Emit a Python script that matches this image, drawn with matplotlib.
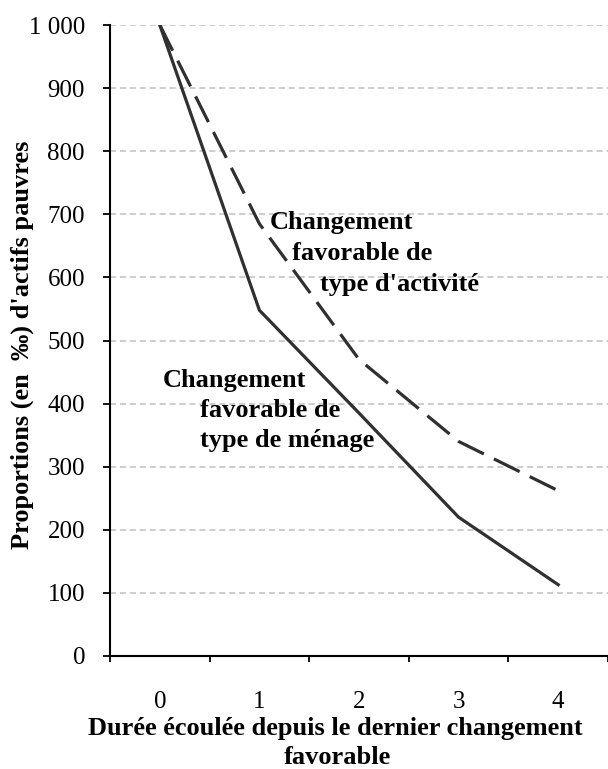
import matplotlib
matplotlib.use("Agg")
import matplotlib.pyplot as plt

categories = ["0", "1", "2", "3", "4"]
menage = [1000, 548, 385, 220, 113]
activite = [1000, 685, 470, 340, 262]
yticks = [0, 100, 200, 300, 400, 500, 600, 700, 800, 900, 1000]
yticklabels = ["0", "100", "200", "300", "400", "500", "600", "700", "800", "900", "1 000"]

plt.rcParams['font.family'] = ['Liberation Serif', 'DejaVu Serif']

fig = plt.figure(figsize=(6.08, 7.69), dpi=100)
W, H = 608, 769
ax = fig.add_axes([110 / W, 1 - 656 / H, 498 / W, (656 - 25) / H])

x = list(range(len(categories)))
col = '#303030'
ax.plot(x, menage, color=col, lw=2.3, solid_joinstyle='miter')
ax.plot(x, activite, color=col, lw=2.3, dashes=(9, 3.5))

ax.set_xlim(-0.5, 4.5)
ax.set_ylim(0, 1000)
ax.set_yticks(yticks)
ax.set_yticklabels(yticklabels, fontsize=18)
ax.set_xticks([i - 0.5 for i in range(len(categories) + 1)])
ax.set_xticklabels([])
ax.set_xticks(x, minor=True)
ax.set_xticklabels(categories, minor=True, fontsize=18)
ax.tick_params(axis='x', which='minor', length=0, pad=25)
ax.tick_params(axis='x', which='major', length=4.5, width=1.3, direction='out')
ax.tick_params(axis='y', length=5, width=1.3, direction='out', pad=13)

for s in ['top', 'right']:
    ax.spines[s].set_visible(False)
for s in ['left', 'bottom']:
    ax.spines[s].set_linewidth(1.5)
    ax.spines[s].set_color('black')

ax.set_axisbelow(True)
ax.yaxis.grid(True, color='#c0c0c0', lw=1.1, dashes=(4, 2.5))
ax.xaxis.grid(False)

fs = 19
def ftxt(px, py, s, ha='left'):
    fig.text(px / W, 1 - py / H, s, fontsize=fs, fontweight='bold', ha=ha, va='center')

ftxt(270, 222, "Changement")
ftxt(292, 253, "favorable de")
ftxt(320, 285, "type d'activité")
ftxt(163, 380, "Changement")
ftxt(200, 410, "favorable de")
ftxt(200, 441, "type de ménage")

fig.text(335 / W, 1 - 728 / H, "Durée écoulée depuis le dernier changement", fontsize=fs,
         fontweight='bold', ha='center', va='center')
fig.text(337 / W, 1 - 757 / H, "favorable", fontsize=fs, fontweight='bold', ha='center', va='center')
fig.text(22 / W, 1 - 345 / H, "Proportions (en  ‰) d'actifs pauvres", fontsize=fs,
         fontweight='bold', ha='center', va='center', rotation=90)

fig.savefig("out.png", dpi=100)
